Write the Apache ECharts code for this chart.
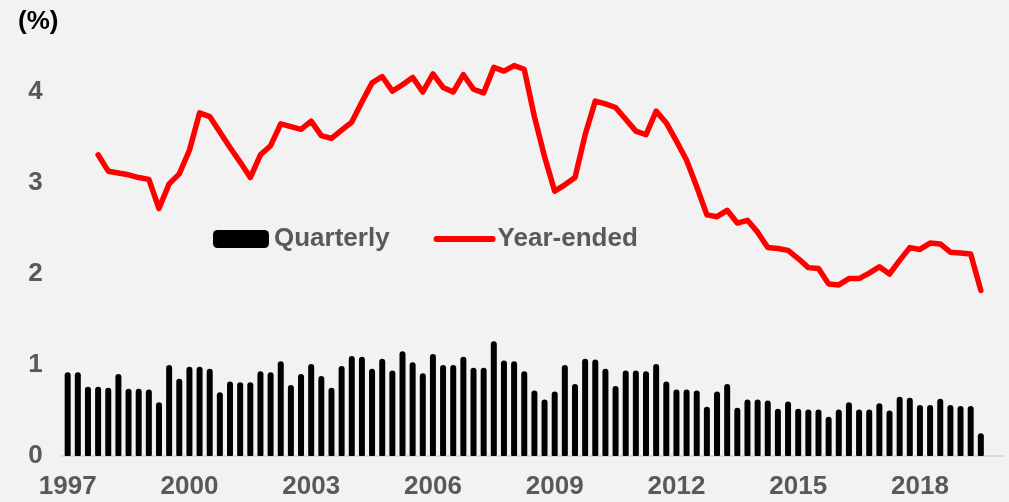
<!DOCTYPE html>
<html>
<head>
<meta charset="utf-8">
<script src="https://cdn.jsdelivr.net/npm/echarts@6/dist/echarts.min.js"></script>
<style>
html,body{margin:0;padding:0;background:#f2f2f2;}
#chart{width:1009px;height:502px;}
</style>
</head>
<body>
<div id="chart"></div>
<script>
// Quarters 1997 Q1 .. 2019 Q3
const startYear = 1997;
const quarters = [];
for (let i = 0; i < 91; i++) {
  quarters.push((startYear + Math.floor(i / 4)) + '-Q' + (i % 4 + 1));
}
const yTicks = [0, 1, 2, 3, 4];

const quarterly = [
  0.92, 0.92, 0.76, 0.76, 0.75, 0.90, 0.74, 0.74, 0.73, 0.59,
  1.00, 0.85, 0.98, 0.98, 0.96, 0.70, 0.82, 0.81, 0.81, 0.93,
  0.92, 1.04, 0.78, 0.90, 1.01, 0.88, 0.75, 0.99, 1.10, 1.09,
  0.96, 1.07, 0.94, 1.15, 1.03, 0.91, 1.12, 1.00, 1.00, 1.09,
  0.97, 0.97, 1.26, 1.05, 1.04, 0.93, 0.72, 0.62, 0.71, 1.00,
  0.79, 1.07, 1.06, 0.96, 0.77, 0.94, 0.94, 0.93, 1.01, 0.82,
  0.73, 0.73, 0.72, 0.54, 0.71, 0.79, 0.53, 0.62, 0.62, 0.61,
  0.52, 0.60, 0.52, 0.51, 0.51, 0.43, 0.51, 0.59, 0.51, 0.51,
  0.58, 0.50, 0.65, 0.64, 0.56, 0.56, 0.63, 0.56, 0.55, 0.55,
  0.25
];

const yearEnded = [
  null, null, null, 3.31, 3.13, 3.11, 3.09, 3.06, 3.04, 2.72,
  2.99, 3.10, 3.36, 3.77, 3.73, 3.56, 3.39, 3.23, 3.06, 3.31,
  3.41, 3.65, 3.62, 3.59, 3.68, 3.52, 3.49, 3.58, 3.67, 3.89,
  4.10, 4.17, 4.01, 4.08, 4.16, 4.00, 4.20, 4.05, 4.00, 4.19,
  4.03, 3.99, 4.27, 4.23, 4.29, 4.25, 3.73, 3.29, 2.91, 2.98,
  3.06, 3.53, 3.90, 3.87, 3.83, 3.70, 3.57, 3.53, 3.79, 3.66,
  3.46, 3.25, 2.96, 2.65, 2.63, 2.70, 2.56, 2.59, 2.46, 2.29,
  2.28, 2.26, 2.17, 2.07, 2.06, 1.89, 1.88, 1.95, 1.95, 2.01,
  2.08, 2.00, 2.15, 2.29, 2.27, 2.34, 2.33, 2.24, 2.23, 2.22,
  1.82
];

const FONT = '"Liberation Sans", Arial, sans-serif';
const GRAY = '#595959';

const chart = echarts.init(document.getElementById('chart'), null, {renderer: 'canvas'});
chart.setOption({
  backgroundColor: '#f2f2f2',
  animation: false,
  title: {
    text: '(%)', left: 13, top: 4,
    textStyle: {fontFamily: FONT, fontSize: 26, fontWeight: 'bold', color: '#000'}
  },
  legend: {
    left: 213, top: 226, padding: 0,
    itemWidth: 56, itemHeight: 18, itemGap: 44,
    textStyle: {fontFamily: FONT, fontSize: 26, fontWeight: 'bold', color: GRAY},
    data: [
      {name: 'Quarterly', icon: 'roundRect'},
      {name: 'Year-ended', itemStyle: {opacity: 0}, lineStyle: {width: 6, cap: 'round', color: '#ff0000'}}
    ]
  },
  grid: [
    {left: 62.6, right: 23.1, top: 46.5, bottom: 46, containLabel: false},
    {left: 62, right: 6, top: 46.5, bottom: 46, containLabel: false}
  ],
  xAxis: [
    {
      type: 'category', gridIndex: 0, data: quarters, boundaryGap: true,
      axisLine: {show: false}, axisTick: {show: false}, splitLine: {show: false},
      axisLabel: {
        interval: 11, margin: 18,
        fontFamily: FONT, fontSize: 26, fontWeight: 'bold', color: GRAY,
        formatter: v => v.slice(0, 4)
      }
    },
    {
      type: 'value', gridIndex: 1, min: 0, max: 1,
      axisLine: {show: true, lineStyle: {color: '#d9d9d9', width: 2}},
      axisTick: {show: false}, axisLabel: {show: false}, splitLine: {show: false}
    }
  ],
  yAxis: [
    {
      type: 'value', gridIndex: 0, min: 0, max: 4.5, interval: 1,
      axisLine: {show: false}, axisTick: {show: false}, splitLine: {show: false},
      axisLabel: {
        margin: 20, showMaxLabel: false,
        fontFamily: FONT, fontSize: 26, fontWeight: 'bold', color: GRAY,
        formatter: v => (yTicks.indexOf(v) >= 0 ? String(v) : '')
      }
    },
    {type: 'value', gridIndex: 1, min: 0, max: 1, show: false}
  ],
  series: [
    {
      name: 'Quarterly', type: 'bar', xAxisIndex: 0, yAxisIndex: 0,
      data: quarterly, barWidth: 6,
      itemStyle: {color: '#000000', borderRadius: [3, 3, 1, 1]}
    },
    {
      name: 'Year-ended', type: 'line', xAxisIndex: 0, yAxisIndex: 0,
      data: yearEnded, symbol: 'none', smooth: false, connectNulls: false,
      itemStyle: {color: '#ff0000'},
      lineStyle: {color: '#ff0000', width: 5.5, cap: 'round', join: 'round'},
      z: 3
    }
  ]
});
</script>
</body>
</html>
